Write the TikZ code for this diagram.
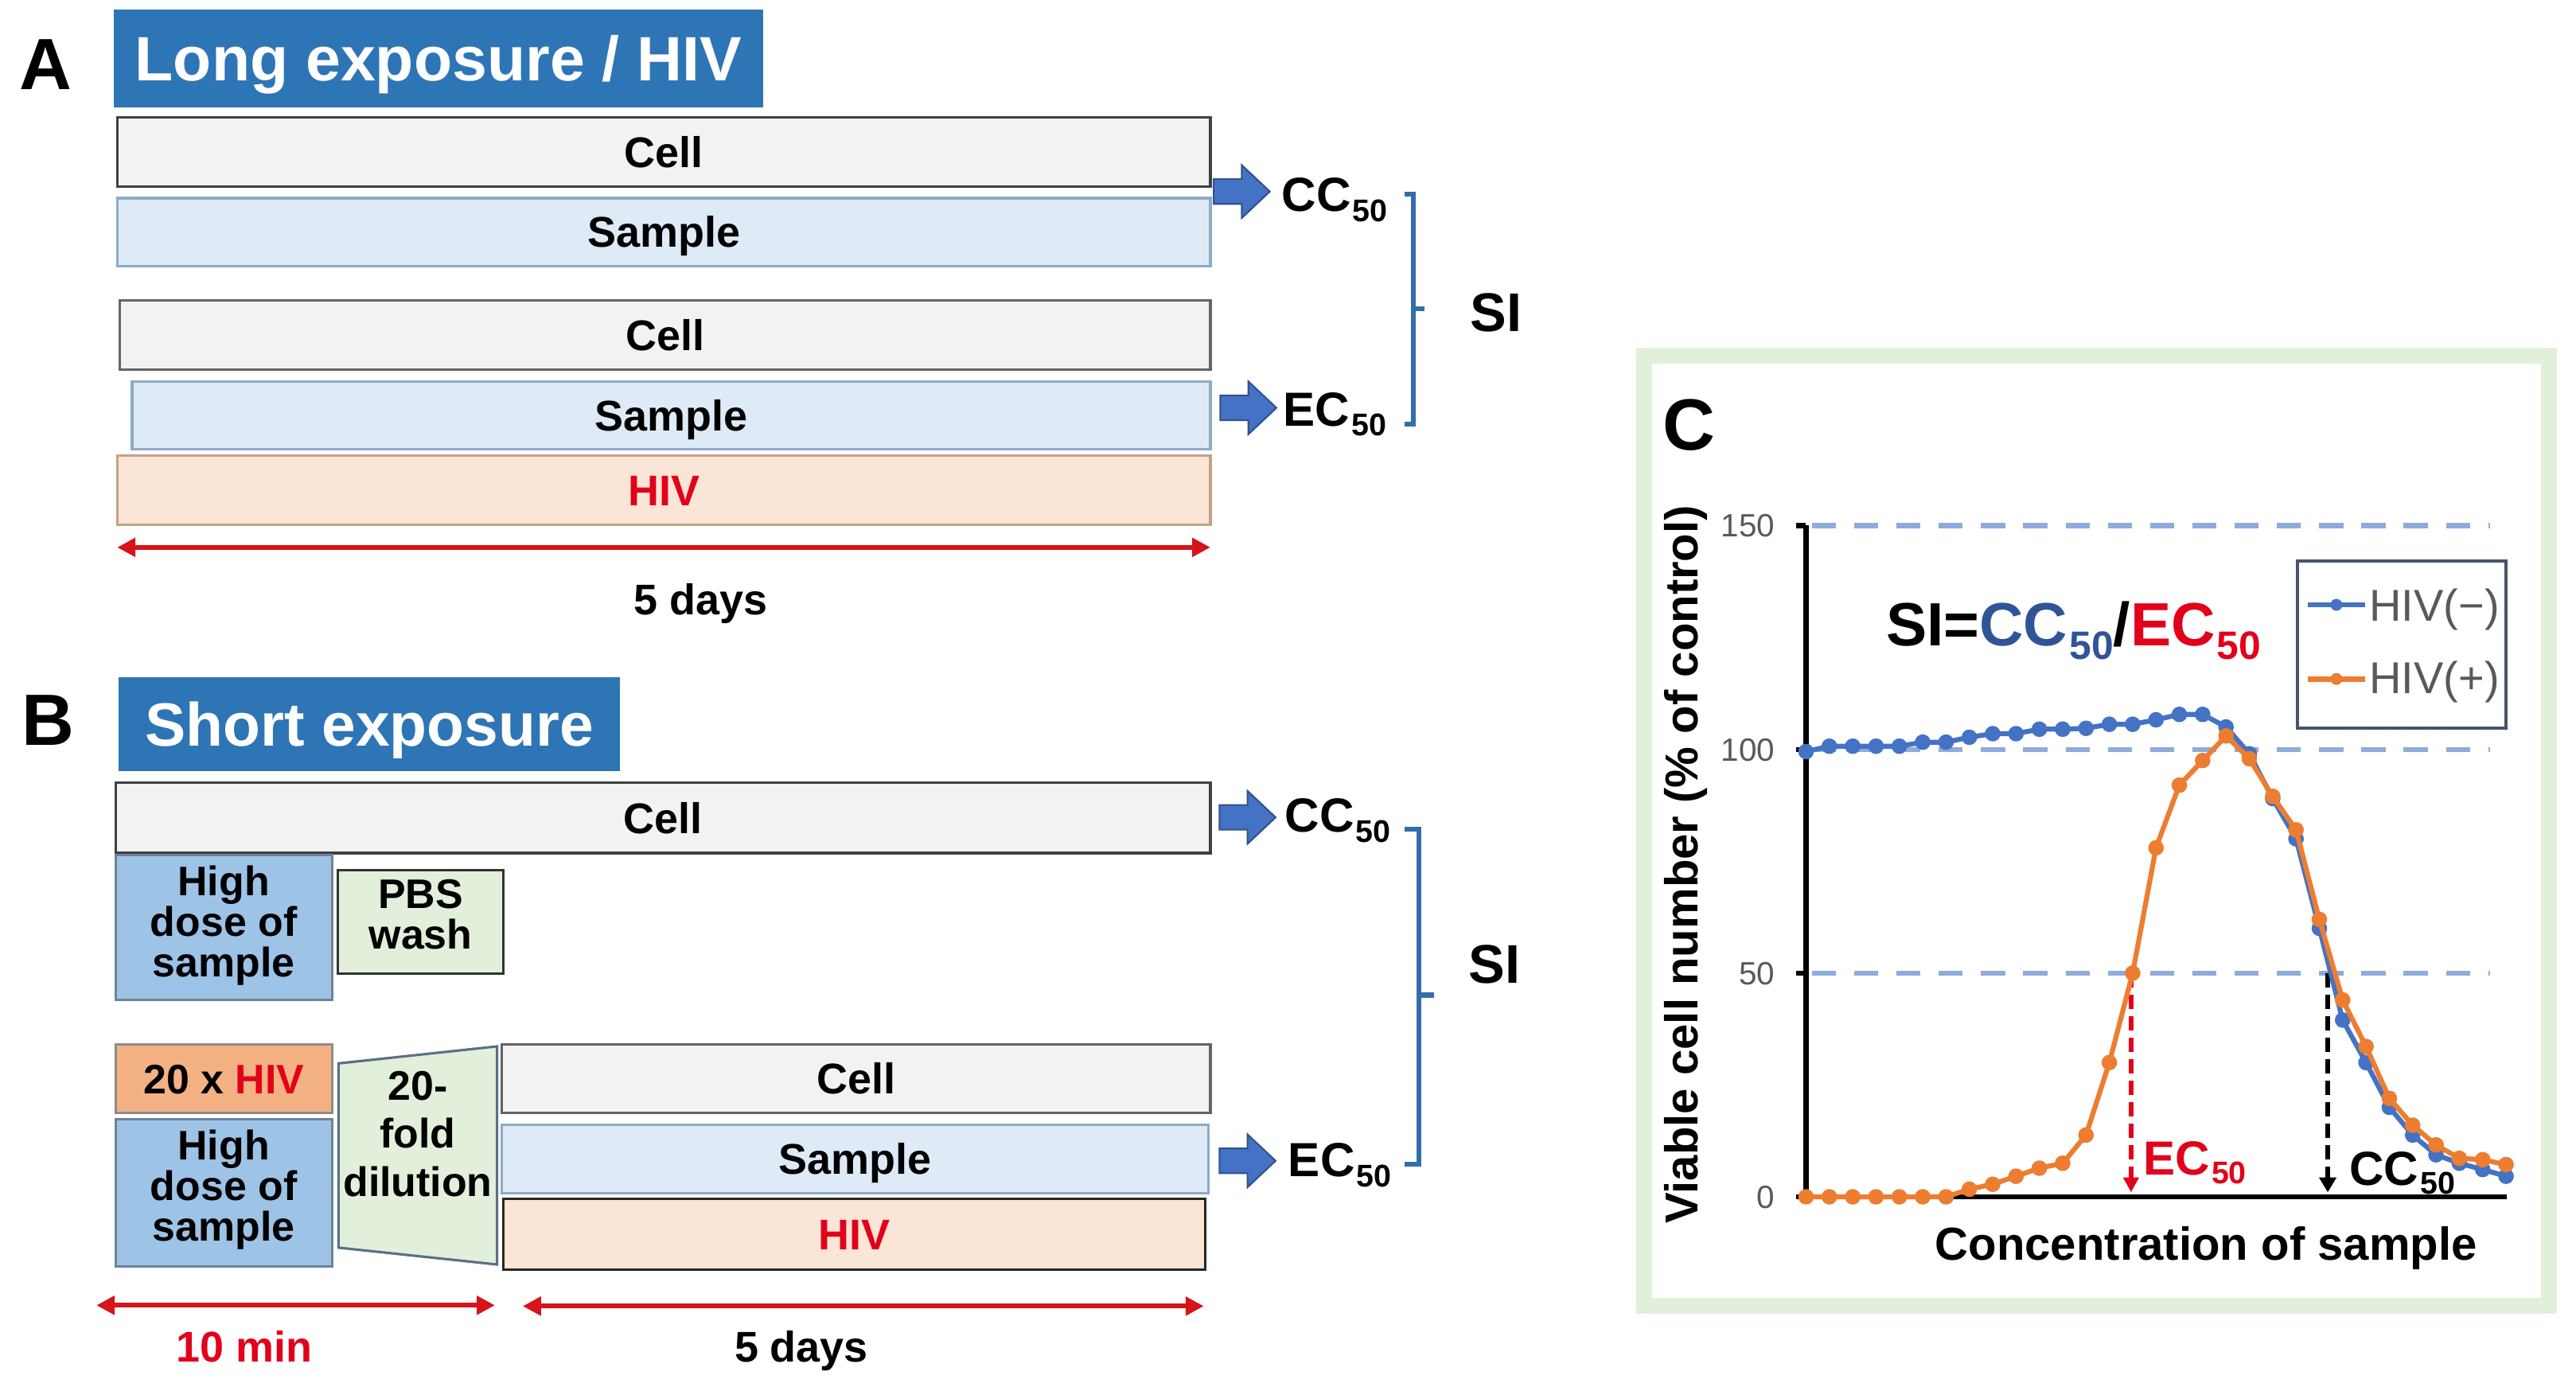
\documentclass[tikz,border=0pt]{standalone}
\usepackage{fontspec}
\setmainfont{Liberation Sans}
\usetikzlibrary{arrows.meta,calc}

\definecolor{titleblue}{RGB}{46,117,182}
\definecolor{cellfill}{RGB}{242,242,242}
\definecolor{cellline}{RGB}{100,100,100}
\definecolor{sampfill}{RGB}{222,235,247}
\definecolor{sampline}{RGB}{143,170,200}
\definecolor{hivfill}{RGB}{251,229,214}
\definecolor{hivline}{RGB}{196,160,136}
\definecolor{highfill}{RGB}{157,195,230}
\definecolor{highline}{RGB}{110,130,155}
\definecolor{pbsfill}{RGB}{226,239,218}
\definecolor{orfill}{RGB}{244,177,131}
\definecolor{hivred}{RGB}{226,0,26}
\definecolor{arrred}{RGB}{214,20,26}
\definecolor{barfill}{RGB}{68,114,196}
\definecolor{barline}{RGB}{47,82,143}
\definecolor{brk}{RGB}{52,110,170}
\definecolor{frameg}{RGB}{226,239,218}
\definecolor{gridc}{RGB}{143,170,220}
\definecolor{cblue}{RGB}{68,114,196}
\definecolor{corange}{RGB}{237,125,49}
\definecolor{tickg}{RGB}{89,89,89}
\definecolor{formblue}{RGB}{47,85,151}
\definecolor{legline}{RGB}{68,84,106}
\definecolor{trapline}{RGB}{90,111,134}

\newcommand{\fz}[1]{\fontsize{#1}{#1}\selectfont}
\newcommand{\fzl}[2]{\fontsize{#1}{#2}\selectfont}
\newcommand{\subf}[2]{\kern1pt\raisebox{-#2}{\fontsize{#1}{#1}\selectfont 50}}

\tikzset{
  bx/.style={rectangle, inner sep=0pt, outer sep=0pt, anchor=north west, line width=1.5pt},
  cellbox/.style={bx, fill=cellfill, draw=cellline},
  sampbox/.style={bx, fill=sampfill, draw=sampline},
  hivbox/.style={bx, fill=hivfill, draw=hivline},
  highbox/.style={bx, fill=highfill, draw=highline},
  pbsbox/.style={bx, fill=pbsfill, draw=black!80},
  orbox/.style={bx, fill=orfill, draw=black!45},
  titlebox/.style={bx, fill=titleblue, draw=none, text=white, font=\bfseries\fz{38}, text height=27.2pt, text depth=0pt},
  lbl/.style={font=\bfseries\fz{26}, text height=18.6pt, text depth=0pt, inner sep=0pt},
  lbltf/.style={font=\bfseries\fz{25}, text height=17.9pt, text depth=0pt, inner sep=0pt},
  mltext/.style={font=\bfseries\fzl{25}{24.5}, inner sep=0pt, align=center},
  mltexttwo/.style={font=\bfseries\fzl{25}{25}, inner sep=0pt, align=center},
  mltextthree/.style={font=\bfseries\fzl{25}{29}, inner sep=0pt, align=center},
  panellbl/.style={font=\bfseries\fz{44}, text height=31.5pt, text depth=0pt, inner sep=0pt},
  sublbl/.style={font=\bfseries\fz{29}, inner sep=0pt, anchor=base west},
  silbl/.style={font=\bfseries\fz{33}, text height=23.6pt, text depth=0pt, inner sep=0pt},
  barrow/.style={fill=barfill, draw=barline, line width=1pt},
  brkline/.style={draw=brk, line width=3pt},
  timeline/.style={draw=arrred, line width=3pt, arrows={Triangle[length=11pt,width=11pt]-Triangle[length=11pt,width=11pt]}},
  trapst/.style={fill=pbsfill, draw=trapline, line width=1.5pt},
  gridline/.style={draw=gridc, line width=3pt, dash pattern=on 14.6pt off 11pt},
  axisline/.style={draw=black, line width=3pt},
  ticklbl/.style={font=\fz{19.5}, text=tickg, text height=14pt, text depth=0pt, inner sep=0pt, anchor=east},
  legtxt/.style={font=\fz{27}, text=tickg, inner sep=0pt, anchor=base west},
}

\newcommand{\blockarr}[1]{\draw[barrow, shift={(#1)}] (-34,-7.5) -- (-17,-7.5) -- (-17,-16) -- (0,0) -- (-17,16) -- (-17,7.5) -- (-34,7.5) -- cycle;}

\begin{document}
\begin{tikzpicture}[x=1pt,y=-1pt]
\useasboundingbox (0,0) rectangle (1560,842.4);
\fill[white] (0,0) rectangle (1560,842.4);

% ---------------- Panel A ----------------
\node[panellbl] (labA) at (27.6,38.5) {A};
\node[titlebox, minimum width=393, minimum height=59] (titA) at (69,6) {Long exposure / HIV};
\node[cellbox, lbl, minimum width=662, minimum height=42, draw=black!75] (cellA1) at (71,71) {Cell};
\node[sampbox, lbl, minimum width=662, minimum height=41] (sampA1) at (71,120) {Sample};
\node[cellbox, lbl, minimum width=660.5, minimum height=42] (cellA2) at (72.5,182) {Cell};
\node[sampbox, lbl, minimum width=653, minimum height=41] (sampA2) at (80,231) {Sample};
\node[hivbox, lbl, text=hivred, minimum width=662, minimum height=42] (hivA) at (71,276) {HIV};
\draw[timeline] ($(hivA.south west)+(0,13.5)$) -- ($(hivA.south east)+(0,13.5)$);
\node[lbl] (daysA) at (424.5,363) {5 days};

\coordinate (tipA1) at (769,116);
\coordinate (tipA2) at (773,247);
\blockarr{tipA1}
\blockarr{tipA2}
\node[sublbl] (ccA) at (776,128) {CC\subf{19}{6pt}};
\node[sublbl] (ecA) at (777,258) {EC\subf{19}{6pt}};
\draw[brkline] (850.6,117.5) -- (856,117.5) -- (856,257) -- (850.6,257);
\draw[brkline] (856,187) -- (862.4,187);
\node[silbl] (siA) at (906,189) {SI};

% ---------------- Panel B ----------------
\node[panellbl] (labB) at (29,435.8) {B};
\node[titlebox, minimum width=303.5, minimum height=57, font=\bfseries\fz{37}, text height=26.5pt] (titB) at (72,410) {Short exposure};
\node[cellbox, lbl, minimum width=663, minimum height=42.6, draw=black!75] (cellB1) at (70,474) {Cell};
\node[highbox, minimum width=131, minimum height=87.5] (high1) at (70,518) {};
\node[mltext] (high1t) at (135.5,560.5) {High\\dose of\\sample};
\node[pbsbox, minimum width=100.5, minimum height=62.6] (pbs) at (204.5,527) {};
\node[mltexttwo] (pbst) at (254.75,553.8) {PBS\\wash};
\node[orbox, lbltf, minimum width=131, minimum height=41.4] (hiv20) at (70,632.6) {20 x \textcolor{hivred}{HIV}};
\node[highbox, minimum width=131, minimum height=89] (high2) at (70,678) {};
\node[mltext] (high2t) at (135.5,720.6) {High\\dose of\\sample};
\coordinate (tz1) at (205,644);
\coordinate (tz2) at (301,633.7);
\coordinate (tz3) at (301,765.8);
\coordinate (tz4) at (205,755.6);
\draw[trapst] (tz1) -- (tz2) -- (tz3) -- (tz4) -- cycle;
\node[mltextthree] (dilt) at (253,686.8) {20-\\fold\\dilution};
\node[cellbox, lbl, minimum width=429, minimum height=41.4] (cellB2) at (304,632.6) {Cell};
\node[sampbox, lbl, minimum width=428, minimum height=41.5] (sampB2) at (304,681) {Sample};
\node[hivbox, lbl, text=hivred, draw=black!85, minimum width=425, minimum height=42.7] (hivB2) at (305,726) {HIV};

\coordinate (tmL) at (58.4,790.5);
\coordinate (tmR) at (299.7,790.5);
\draw[timeline] (tmL) -- (tmR);
\node[lbl, text=hivred] (tmin) at (148,815.3) {10 min};
\coordinate (tdL) at (316.6,791);
\coordinate (tdR) at (729,791);
\draw[timeline] (tdL) -- (tdR);
\node[lbl] (daysB) at (485.3,815.3) {5 days};

\coordinate (tipB1) at (772.5,495);
\coordinate (tipB2) at (772.5,703);
\blockarr{tipB1}
\blockarr{tipB2}
\node[sublbl] (ccB) at (778,504) {CC\subf{19}{6pt}};
\node[sublbl] (ecB) at (780,712.6) {EC\subf{19}{6pt}};
\draw[brkline] (850.6,502) -- (859.4,502) -- (859.4,705) -- (850.6,705);
\draw[brkline] (859.4,602.6) -- (868.5,602.6);
\node[silbl] (siB) at (905,583.6) {SI};

% ---------------- Panel C ----------------
\draw[frameg, line width=9.6pt] (995.8,215.2) rectangle (1543.4,791);
\node[panellbl] (labC) at (1023,257) {C};

\node[font=\bfseries\fz{29}, text=hivred, inner sep=0pt, anchor=base west] (ecl) at (1297.8,711.8) {EC\subf{19}{5pt}};
\node[font=\bfseries\fz{29}, inner sep=0pt, anchor=base west] (ccl) at (1422.5,718) {CC\subf{19}{5pt}};

\begin{scope}[shift={(1093.7,724.8)}, x=14.13pt, y=2.71pt]
  \foreach \v in {50,100,150} \draw[gridline] (0.25,\v) -- (29.3,\v);
  \draw[axisline] (0,150) -- (0,0) -- (30.04,0);
  \foreach \v in {0,50,100,150} {
    \draw[axisline] (-0.43,\v) -- (0,\v);
    \node[ticklbl] (tk\v) at (-1.32,\v) {\v};
  }
  \coordinate (ecT) at (13.93,50);
  \coordinate (ecBot) at (13.93,1);
  \coordinate (ccT) at (22.36,50);
  \coordinate (ccBot) at (22.36,1);
  \draw[hivred, line width=2.6pt, dash pattern=on 9pt off 4pt, -{Triangle[length=9pt,width=9pt]}] (ecT) -- (ecBot);
  \draw[black, line width=2.6pt, dash pattern=on 9pt off 4pt, -{Triangle[length=9pt,width=10pt]}] (ccT) -- (ccBot);
  \draw[cblue, line width=3pt, line join=round] plot[mark=*, mark size=3.2pt, mark options={fill=cblue, draw=none}] coordinates {
    (0,99.5)(1,100.7)(2,100.7)(3,100.7)(4,100.7)(5,101.6)(6,101.6)(7,102.7)(8,103.5)(9,103.5)
    (10,104.5)(11,104.5)(12,104.7)(13,105.6)(14,105.6)(15,106.6)(16,107.8)(17,107.8)(18,105)(19,99)
    (20,89)(21,80)(22,60)(23,39.5)(24,30)(25,20)(26,13.8)(27,9.4)(28,7.5)(29,6.1)(30,4.6)};
  \draw[corange, line width=3pt, line join=round] plot[mark=*, mark size=3.2pt, mark options={fill=corange, draw=none}] coordinates {
    (0,0)(1,0)(2,0)(3,0)(4,0)(5,0)(6,0)(7,1.7)(8,2.8)(9,4.6)
    (10,6.4)(11,7.5)(12,13.8)(13,30)(14,50)(15,78)(16,92)(17,97.5)(18,103)(19,97.9)
    (20,89.5)(21,82)(22,62)(23,44)(24,33.6)(25,22)(26,16)(27,11.6)(28,8.6)(29,8.3)(30,7.2)};
\end{scope}

\node[font=\bfseries\fz{37}, inner sep=0pt, anchor=base west] (form) at (1142,391.2)
  {SI=\textcolor{formblue}{CC\subf{24}{8pt}}/\textcolor{hivred}{EC\subf{24}{8pt}}};

\node[draw=legline, line width=2pt, minimum width=126.4, minimum height=101.2, anchor=north west, inner sep=0pt, outer sep=0pt] (leg) at (1391.2,339.8) {};
\coordinate (lm1) at (1397.6,366.3);
\coordinate (lm2) at (1432.2,366.3);
\coordinate (lp1) at (1397.6,411.2);
\coordinate (lp2) at (1432.2,411.2);
\draw[cblue, line width=3.2pt] (lm1) -- (lm2);
\fill[cblue] ($(lm1)!0.5!(lm2)$) circle (3.6pt);
\draw[corange, line width=3.2pt] (lp1) -- (lp2);
\fill[corange] ($(lp1)!0.5!(lp2)$) circle (3.6pt);
\node[legtxt] (legm) at (1434.6,376) {HIV(−)};
\node[legtxt] (legp) at (1434.6,420.1) {HIV(+)};

\node[font=\bfseries\fz{28}, rotate=90, anchor=base, inner sep=0pt] (ylab) at (1028,523.6) {Viable cell number (\% of control)};
\node[font=\bfseries\fz{28}, anchor=base, inner sep=0pt] (xlab) at (1336,763) {Concentration of sample};
\end{tikzpicture}
\end{document}
